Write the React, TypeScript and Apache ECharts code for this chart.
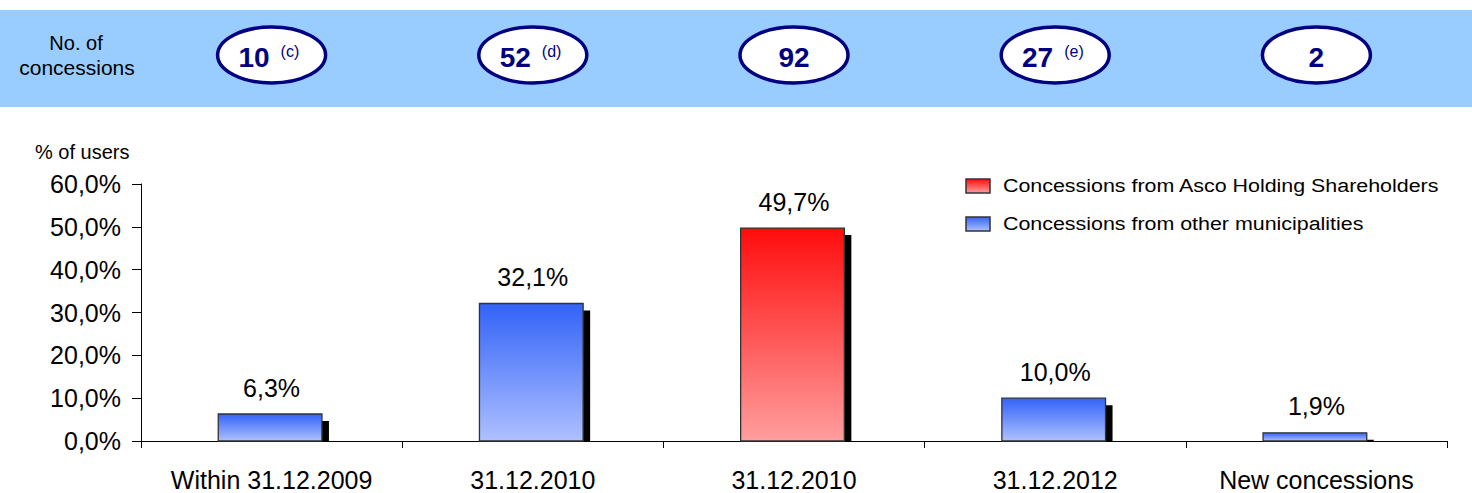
import React, { useEffect, useRef } from "react";
import * as echarts from "echarts";

const categories = ["Within 31.12.2009", "31.12.2010", "31.12.2010", "31.12.2012", "New concessions"];
const shareValues = [6.3, 32.1, 49.7, 10.0, 1.9];
const isAscoShareholder = [false, false, true, false, false];
const concessionCounts = ["10", "52", "92", "27", "2"];
const concessionNotes = ["(c)", "(d)", "", "(e)", ""];
const legendNames = ["Concessions from Asco Holding Shareholders", "Concessions from other municipalities"];
const yTicks = { min: 0, max: 60, interval: 10 };

const FONT = "'Liberation Sans', Arial, sans-serif";

const blueGrad = () =>
  new echarts.graphic.LinearGradient(0, 0, 0, 1, [
    { offset: 0, color: "#3363F7" },
    { offset: 1, color: "#AEC0FF" },
  ]);
const redGrad = () =>
  new echarts.graphic.LinearGradient(0, 0, 0, 1, [
    { offset: 0, color: "#FF0C0C" },
    { offset: 1, color: "#FF9E9E" },
  ]);

const fmt = (v: number) => v.toFixed(1).replace(".", ",") + "%";

export default function App() {
  const ref = useRef<HTMLDivElement>(null);
  useEffect(() => {
    if (!ref.current) return;
    const chart = echarts.init(ref.current, undefined, { renderer: "svg" });

    const gridLeft = 141;
    const gridRight = 25;
    const width = 1472;
    const catW = (width - gridLeft - gridRight) / categories.length;

    const graphics: any[] = [
      { type: "rect", shape: { x: 0, y: 10, width: 1472, height: 97 }, style: { fill: "#99CCFF" }, z: 0 },
      { type: "text", x: 76, y: 43, style: { text: "No. of", fontSize: 20, fontFamily: FONT, fill: "#000", textAlign: "center", textVerticalAlign: "middle" } },
      { type: "text", x: 77, y: 67, style: { text: "concessions", fontSize: 21, fontFamily: FONT, fill: "#000", textAlign: "center", textVerticalAlign: "middle" } },
      { type: "text", x: 35, y: 152, style: { text: "% of users", fontSize: 20, fontFamily: FONT, fill: "#000", textAlign: "left", textVerticalAlign: "middle" } },
    ];
    concessionCounts.forEach((c, i) => {
      const cx = gridLeft + catW * (i + 0.5);
      const note = concessionNotes[i];
      graphics.push({
        type: "ellipse",
        shape: { cx, cy: 55, rx: 54, ry: 28 },
        style: { fill: "#fff", stroke: "#000080", lineWidth: 3.5 },
        z: 1,
      });
      graphics.push({
        type: "text",
        x: note ? cx - 2 : cx,
        y: 57,
        z: 2,
        style: {
          text: c,
          fontSize: 28,
          fontWeight: "bold",
          fontFamily: FONT,
          fill: "#000080",
          textAlign: note ? "right" : "center",
          textVerticalAlign: "middle",
        },
      });
      if (note) {
        graphics.push({
          type: "text",
          x: cx + 9,
          y: 51,
          z: 2,
          style: { text: note, fontSize: 16, fontFamily: FONT, fill: "#000080", textAlign: "left", textVerticalAlign: "middle" },
        });
      }
    });
    legendNames.forEach((name, i) => {
      const y = 186 + i * 38;
      graphics.push({
        type: "rect",
        shape: { x: 966, y: y - 7, width: 24, height: 14 },
        style: { fill: i === 0 ? redGrad() : blueGrad(), stroke: "#333", lineWidth: 1.5 },
      });
      graphics.push({
        type: "text",
        x: 1003,
        y,
        scaleX: 1.19,
        style: { text: name, fontSize: 18, fontFamily: FONT, fill: "#000", textAlign: "left", textVerticalAlign: "middle" },
      });
    });

    chart.setOption({
      animation: false,
      textStyle: { fontFamily: FONT },
      grid: { left: gridLeft, right: gridRight, top: 184, bottom: 52, containLabel: false },
      xAxis: {
        type: "category",
        data: categories,
        boundaryGap: true,
        axisLine: { show: true, lineStyle: { color: "#000", width: 1 } },
        axisTick: { show: true, length: 7, lineStyle: { color: "#000" } },
        axisLabel: { interval: 0, fontSize: 25, color: "#000", margin: 26, fontFamily: FONT, hideOverlap: false },
        splitLine: { show: false },
      },
      yAxis: {
        type: "value",
        min: yTicks.min,
        max: yTicks.max,
        interval: yTicks.interval,
        axisLine: { show: true, lineStyle: { color: "#000", width: 1 } },
        axisTick: { show: true, length: 9, lineStyle: { color: "#000" } },
        axisLabel: { fontSize: 25, color: "#000", margin: 20, fontFamily: FONT, formatter: (v: number) => fmt(v) },
        splitLine: { show: false },
      },
      graphic: graphics,
      series: [
        {
          type: "custom",
          name: "share",
          data: shareValues.map((v, i) => [i, v]),
          renderItem: (params: any, api: any) => {
            const idx = api.value(0);
            const v = api.value(1);
            const top = api.coord([idx, v]);
            const base = api.coord([idx, 0]);
            const bw = api.size([1, 0])[0] * 0.397;
            const x = top[0] - bw / 2 - 1.5;
            const h = base[1] - top[1];
            const sh = 7;
            const red = isAscoShareholder[params.dataIndex];
            return {
              type: "group",
              children: [
                {
                  type: "rect",
                  shape: { x: x + sh, y: top[1] + sh, width: bw, height: Math.max(h - sh, 1.5) },
                  style: { fill: "#000" },
                },
                {
                  type: "rect",
                  shape: { x, y: top[1], width: bw, height: h },
                  style: { fill: red ? redGrad() : blueGrad(), stroke: "#333", lineWidth: 1.3 },
                },
                {
                  type: "text",
                  x: top[0],
                  y: top[1] - 14,
                  style: {
                    text: fmt(v),
                    fontSize: 25,
                    fontFamily: FONT,
                    fill: "#000",
                    textAlign: "center",
                    textVerticalAlign: "bottom",
                  },
                },
              ],
            };
          },
        },
      ],
    });
    return () => chart.dispose();
  }, []);
  return (
    <div
      ref={ref}
      style={{ position: "fixed", left: 0, top: 0, width: 1472, height: 493, background: "#fff" }}
    />
  );
}
